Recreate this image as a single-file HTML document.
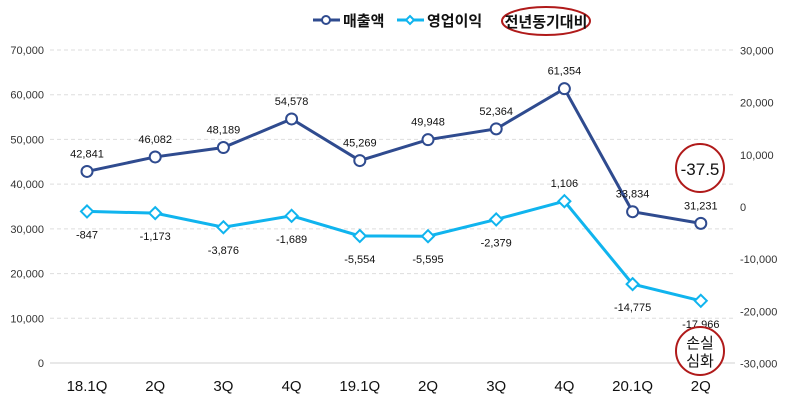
<!DOCTYPE html>
<html><head><meta charset="utf-8"><style>
body{margin:0;background:#fff;}
svg{display:block;font-family:"Liberation Sans","Noto Sans CJK KR",sans-serif;}
</style></head><body>
<svg id="c" width="790" height="406"></svg>
<script>
const categories=["18.1Q","2Q","3Q","4Q","19.1Q","2Q","3Q","4Q","20.1Q","2Q"];
const sales=[42841,46082,48189,54578,45269,49948,52364,61354,33834,31231];
const profit=[-847,-1173,-3876,-1689,-5554,-5595,-2379,1106,-14775,-17966];
const leftTicks=[0,10000,20000,30000,40000,50000,60000,70000];
const rightTicks=[-30000,-20000,-10000,0,10000,20000,30000];
const NS="http://www.w3.org/2000/svg";
const svg=document.getElementById('c');
const yL=v=>363-v*(313/70000);
const yR=v=>207-v*(52.2/10000);
const xA=i=>87+i*68.2;
const fmt=v=>v.toLocaleString('en-US');
function el(t,a,p){const e=document.createElementNS(NS,t);for(const k in a)e.setAttribute(k,a[k]);(p||svg).appendChild(e);return e;}
function tx(x,y,s,a,p){const e=el('text',Object.assign({x:x,y:y},a),p);e.textContent=s;return e;}
leftTicks.forEach(v=>{
 const g=el('line',{x1:50,x2:735,y1:yL(v),y2:yL(v),stroke:v===0?'#d0d0d0':'#dddddd','stroke-dasharray':v===0?'':'4,3'});
 
 
 const t=tx(44,yL(v)+4,fmt(v),{'text-anchor':'end','font-size':11,fill:'#333'});
 
 
});
rightTicks.forEach(v=>{
 const t=tx(740,yR(v)+4,fmt(v),{'font-size':11,fill:'#333'});
 
 
});
categories.forEach((c,i)=>{
 const t=tx(xA(i),391,c,{'text-anchor':'middle','font-size':15,fill:'#111'});
 
 
});
const sp=el('polyline',{points:sales.map((v,i)=>xA(i)+','+yL(v)).join(' '),fill:'none',stroke:'#2f4b8f','stroke-width':3});


const pp=el('polyline',{points:profit.map((v,i)=>xA(i)+','+yR(v)).join(' '),fill:'none',stroke:'#10b4ee','stroke-width':3});


sales.forEach((v,i)=>{
 const m=el('circle',{cx:xA(i),cy:yL(v),r:5.5,fill:'#fff',stroke:'#2f4b8f','stroke-width':2});
 
 
 const t=tx(xA(i),yL(v)-14,fmt(v),{'text-anchor':'middle','font-size':11,fill:'#111'});
 
 
});
profit.forEach((v,i)=>{
 const x=xA(i),y=yR(v);
 const m=el('polygon',{points:`${x},${y-6} ${x+6},${y} ${x},${y+6} ${x-6},${y}`,fill:'#fff',stroke:'#10b4ee','stroke-width':2});
 
 
 const up=v>0;
 const t=tx(x,up?y-14:y+27,fmt(v),{'text-anchor':'middle','font-size':11,fill:'#111'});
 
 
});
// legend
const lg=el('g',{});


el('line',{x1:313,x2:340,y1:20,y2:20,stroke:'#2f4b8f','stroke-width':3},lg);
el('circle',{cx:326,cy:20,r:4,fill:'#fff',stroke:'#2f4b8f','stroke-width':2},lg);
tx(343,26,'매출액',{'font-size':15,'font-weight':'bold',fill:'#111'},lg);
el('line',{x1:397,x2:424,y1:20,y2:20,stroke:'#10b4ee','stroke-width':3},lg);
el('polygon',{points:'410,16 414,20 410,24 406,20',fill:'#fff',stroke:'#10b4ee','stroke-width':2},lg);
tx(427,26,'영업이익',{'font-size':15,'font-weight':'bold',fill:'#111'},lg);
el('ellipse',{cx:546,cy:21,rx:44,ry:14,fill:'none',stroke:'#b01a1a','stroke-width':2},lg);
tx(546,27,'전년동기대비',{'text-anchor':'middle','font-size':15,'font-weight':'bold',fill:'#111'},lg);
// annotations
const a1=el('g',{});
el('circle',{cx:700,cy:168,r:24,fill:'#fff',stroke:'#b01a1a','stroke-width':2},a1);
tx(700,175,'-37.5',{'text-anchor':'middle','font-size':17,fill:'#111'},a1);
const a2=el('g',{});
el('circle',{cx:700,cy:351,r:24,fill:'#fff',stroke:'#b01a1a','stroke-width':2},a2);
tx(700,348,'손실',{'text-anchor':'middle','font-size':15,fill:'#111'},a2);
tx(700,366,'심화',{'text-anchor':'middle','font-size':15,fill:'#111'},a2);
</script>
</body></html>
